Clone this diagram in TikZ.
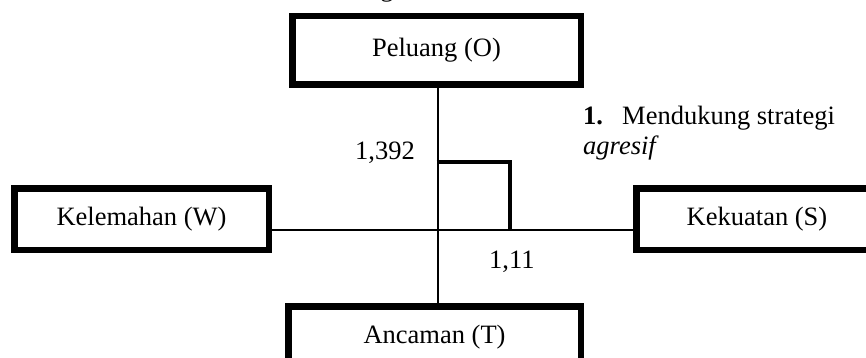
\documentclass[tikz,border=0pt]{standalone}
\usepackage{fontspec}
\setmainfont{Liberation Serif}
\begin{document}
\begin{tikzpicture}[x=1pt,y=-1pt,
  txt/.style={font=\fontsize{26.5}{32}\selectfont},
  box/.style={draw, line width=6.5pt, inner sep=0pt, txt},
  conn/.style={line width=2pt},
  brk/.style={line width=3.5pt},
  lbl/.style={txt, inner sep=0pt}]
\useasboundingbox (0,0) rectangle (866,358);
\clip (0,0) rectangle (866,358);
% cut-off title fragment
\node[lbl, anchor=base] (cut) at (387,-3.5) {g};
% boxes
\node[box, minimum width=288.5pt, minimum height=68.5pt] (O) at (436.5,50.5) {Peluang (O)};
\node[box, minimum width=254.5pt, minimum height=61.5pt] (W) at (141.5,219) {Kelemahan (W)};
\node[box, minimum width=241.5pt, minimum height=61.5pt] (S) at (757,219) {Kekuatan (S)};
\node[box, minimum width=292.5pt, minimum height=61.5pt] (T) at (434.5,337) {Ancaman (T)};
% axes
\coordinate (X) at (438,230);
\draw[conn] (O.south -| X) -- (T.north -| X);
\draw[conn] (W.east |- X) -- (S.west |- X);
% bracket
\coordinate (B1) at (436.5,162);
\coordinate (B2) at (510,162);
\coordinate (B3) at (510,230);
\draw[brk] (B1) -- (B2) -- (B3);
% labels
\node[lbl, anchor=base west] (ly) at (355,160) {1,392};
\node[lbl, anchor=base west] (lx) at (489,268) {1,11};
\node[lbl, anchor=base west] (n1) at (583,125) {\textbf{1.}};
\node[lbl, anchor=base west] (m1) at (622,125) {Mendukung strategi};
\node[lbl, anchor=base west] (m2) at (583,155) {\textit{agresif}};
\end{tikzpicture}
\end{document}
